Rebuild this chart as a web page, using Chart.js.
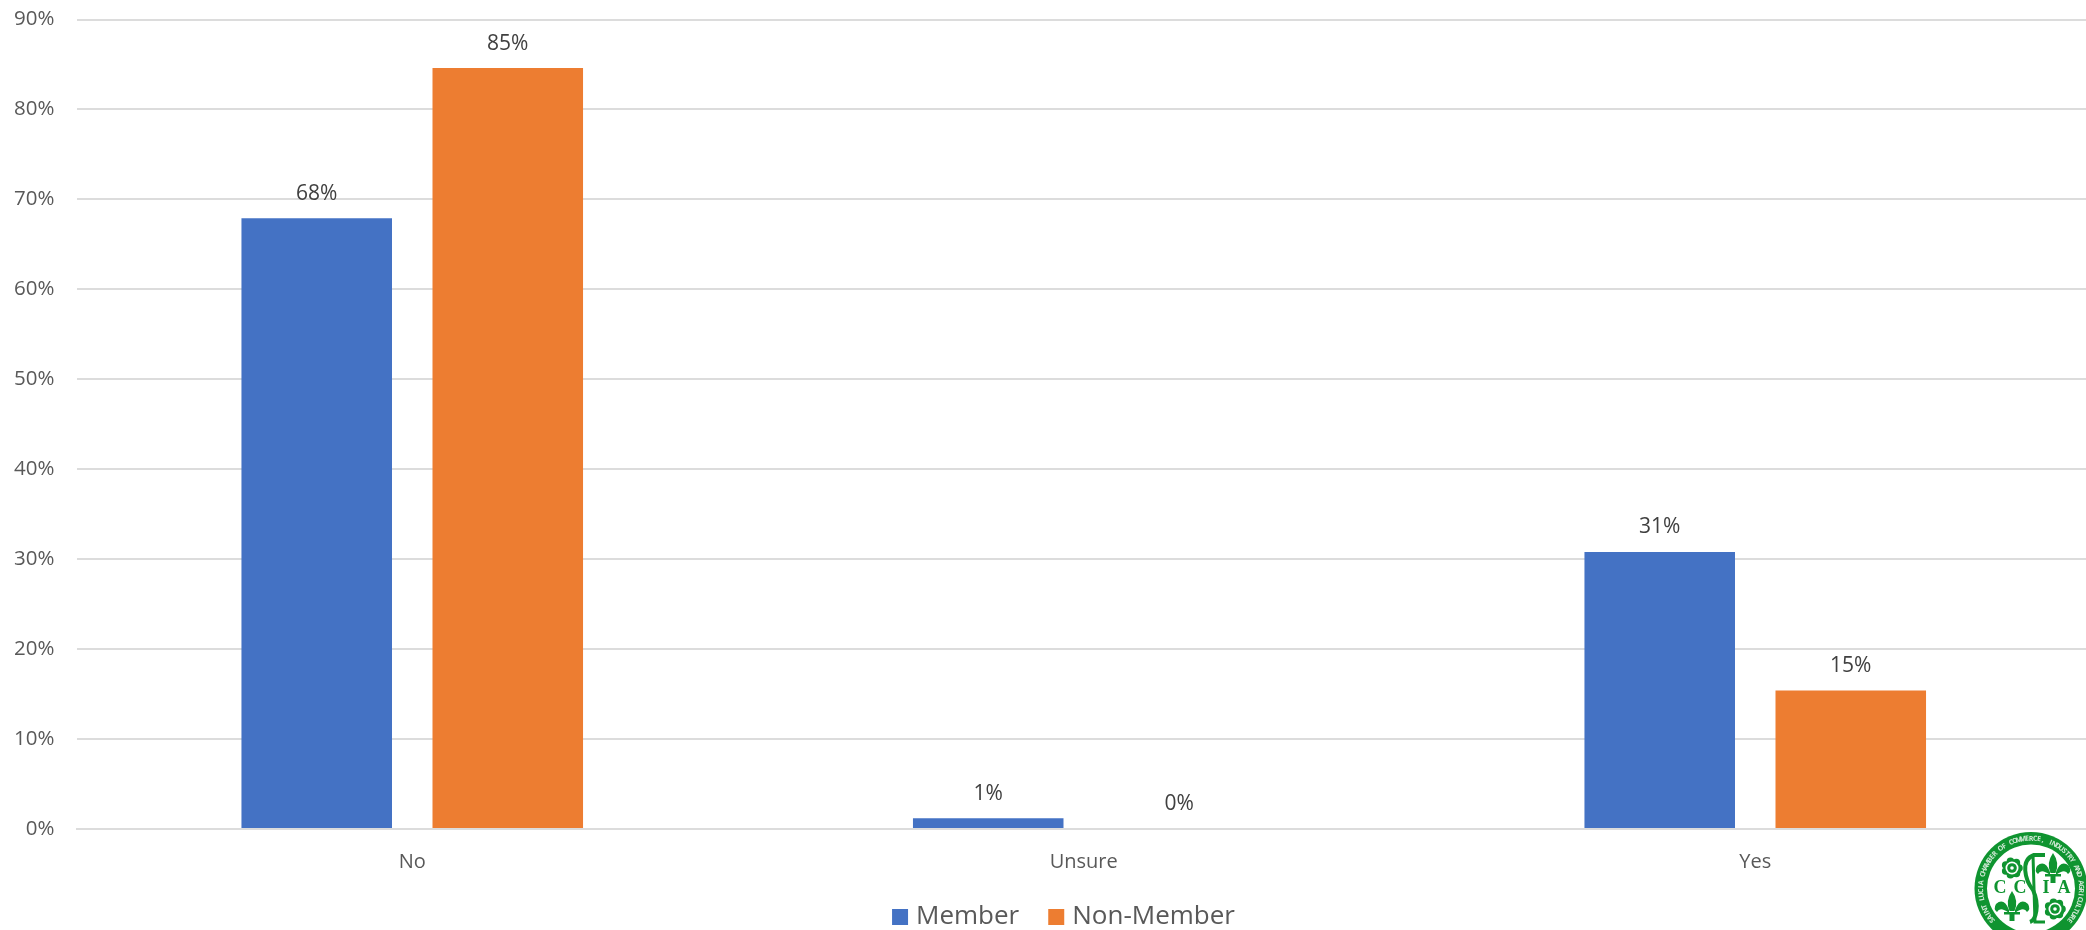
<!DOCTYPE html>
<html>
<head>
<meta charset="utf-8">
<script src="https://cdn.jsdelivr.net/npm/chart.js@4"></script>
<style>
html, body { margin: 0; padding: 0; background: #fff; overflow: hidden; }
canvas { display: block; }
</style>
</head>
<body>
<canvas id="surveyChart" width="2091" height="930"></canvas>
<script>
const categories = ['No', 'Unsure', 'Yes'];
const memberValues = [67.9, 1.2, 30.8];
const nonMemberValues = [84.6, 0, 15.4];
const yTicks = [0, 10, 20, 30, 40, 50, 60, 70, 80, 90];

const FONT = '"Open Sans", "Noto Sans", sans-serif';

// value labels above each bar
const barLabels = {
    id: 'barLabels',
    afterDatasetsDraw(chart) {
        const c = chart.ctx;
        c.save();
        c.font = '21px ' + FONT;
        c.fillStyle = '#404040';
        c.textAlign = 'center';
        c.textBaseline = 'middle';
        chart.data.datasets.forEach((ds, i) => {
            chart.getDatasetMeta(i).data.forEach((bar, j) => {
                c.fillText(Math.round(ds.data[j]) + '%', bar.x, bar.y - 24.5);
            });
        });
        c.restore();
    }
};

// legend sits off centre in the original, below the axis labels
const legendPlace = {
    id: 'legendPlace',
    afterLayout(chart) {
        const lg = chart.legend;
        lg.left = 0;
        lg.right = 2132;
        lg.top = 870;
        lg.bottom = 930;
    }
};

function drawRose(c, x, y) {
    c.fillStyle = '#0f9430';
    c.beginPath();
    for (let i = 0; i < 7; i++) {
        const a = i / 7 * Math.PI * 2;
        c.arc(x + Math.cos(a) * 7, y + Math.sin(a) * 7, 3.8, 0, Math.PI * 2);
    }
    c.arc(x, y, 8, 0, Math.PI * 2);
    c.fill();
    c.fillStyle = '#fff';
    c.beginPath(); c.arc(x, y, 6.5, 0, Math.PI * 2); c.fill();
    c.fillStyle = '#0f9430';
    c.beginPath(); c.arc(x, y, 4.8, 0, Math.PI * 2); c.fill();
    c.fillStyle = '#fff';
    c.beginPath(); c.arc(x, y, 1.8, 0, Math.PI * 2); c.fill();
}

function drawFleur(c, x, y) {
    c.fillStyle = '#0f9430';
    c.beginPath();
    c.moveTo(x, y - 15);
    c.quadraticCurveTo(x + 7, y - 5, x + 2.5, y + 5);
    c.lineTo(x - 2.5, y + 5);
    c.quadraticCurveTo(x - 7, y - 5, x, y - 15);
    c.fill();
    [-1, 1].forEach(s => {
        c.beginPath();
        c.moveTo(x + s * 3, y + 4);
        c.quadraticCurveTo(x + s * 8, y - 9, x + s * 16, y - 2);
        c.quadraticCurveTo(x + s * 19, y + 3, x + s * 15, y + 6);
        c.quadraticCurveTo(x + s * 12, y, x + s * 3, y + 7);
        c.fill();
    });
    c.fillRect(x - 8, y + 6, 16, 2.5);
    c.fillRect(x - 2.5, y + 8, 5, 7);
}

// round chamber seal in the bottom right corner
const seal = {
    id: 'seal',
    afterDraw(chart) {
        const c = chart.ctx;
        const cx = 2031, cy = 888.5, r = 56.5;
        c.save();
        c.fillStyle = '#0f9430';
        c.beginPath(); c.arc(cx, cy, r, 0, Math.PI * 2); c.fill();
        c.fillStyle = '#fff';
        c.beginPath(); c.arc(cx, cy, 44, 0, Math.PI * 2); c.fill();

        const ring = 'SAINT LUCIA CHAMBER OF COMMERCE, INDUSTRY AND AGRICULTURE';
        c.font = 'bold 7px ' + FONT;
        c.textAlign = 'center';
        c.textBaseline = 'middle';
        c.fillStyle = '#cfe8d4';
        const start = -Math.PI * 1.22, step = Math.PI * 1.44 / (ring.length - 1);
        for (let i = 0; i < ring.length; i++) {
            const a = start + i * step;
            c.save();
            c.translate(cx + Math.cos(a) * 50, cy + Math.sin(a) * 50);
            c.rotate(a + Math.PI / 2);
            c.fillText(ring[i], 0, 0);
            c.restore();
        }

        drawRose(c, 2012, 868);
        drawRose(c, 2055, 909);
        drawFleur(c, 2053, 868);
        drawFleur(c, 2012, 906);

        c.strokeStyle = '#0f9430';
        c.lineWidth = 4;
        c.beginPath();
        c.moveTo(2045, 855);
        c.lineTo(2034, 855);
        c.bezierCurveTo(2020, 860, 2025, 880, 2033, 890);
        c.bezierCurveTo(2040, 905, 2036, 920, 2030, 922);
        c.stroke();
        c.lineWidth = 3;
        c.beginPath();
        c.moveTo(2033, 855);
        c.lineTo(2035, 922);
        c.lineTo(2045, 922);
        c.stroke();

        c.font = 'bold 18px "Liberation Serif", serif';
        c.fillStyle = '#0f9430';
        [['C', 2000], ['C', 2020], ['I', 2046], ['A', 2064]].forEach(l => {
            c.fillText(l[0], l[1], 888);
        });
        c.restore();
    }
};

const ctx = document.getElementById('surveyChart');
const chr = new Chart(ctx, {
    type: 'bar',
    data: {
        labels: categories,
        datasets: [
            { label: 'Member', data: memberValues, backgroundColor: '#4472c4' },
            { label: 'Non-Member', data: nonMemberValues, backgroundColor: '#ed7d31' }
        ]
    },
    options: {
        responsive: false,
        animation: false,
        categoryPercentage: 0.569,
        barPercentage: 0.788,
        layout: { padding: { left: 0, right: 0, top: 19.5, bottom: 0 } },
        plugins: {
            tooltip: { enabled: false },
            legend: {
                position: 'bottom',
                maxHeight: 1,
                labels: {
                    usePointStyle: true,
                    pointStyle: 'rect',
                    boxWidth: 6,
                    boxHeight: 16,
                    padding: 34,
                    color: '#595959',
                    font: { family: FONT, size: 26 }
                }
            }
        },
        scales: {
            x: {
                grid: { display: false },
                border: { color: '#dcdcdc', width: 2 },
                ticks: {
                    color: '#595959',
                    padding: 13,
                    maxRotation: 0,
                    font: { family: FONT, size: 20 }
                },
                afterFit(axis) { axis.height = 100; }
            },
            y: {
                min: 0,
                max: 90,
                afterBuildTicks(axis) { axis.ticks = yTicks.map(v => ({ value: v })); },
                grid: { color: '#dcdcdc', lineWidth: 2, drawTicks: false },
                border: { display: false },
                ticks: {
                    color: '#595959',
                    padding: 22,
                    font: { family: FONT, size: 20.5 },
                    callback: v => v + '%'
                },
                afterFit(axis) {
                    axis.width = 76.5;
                    axis.paddingTop = 0;
                    axis.paddingBottom = 0;
                }
            }
        }
    },
    plugins: [barLabels, legendPlace, seal]
});
</script>
</body>
</html>
